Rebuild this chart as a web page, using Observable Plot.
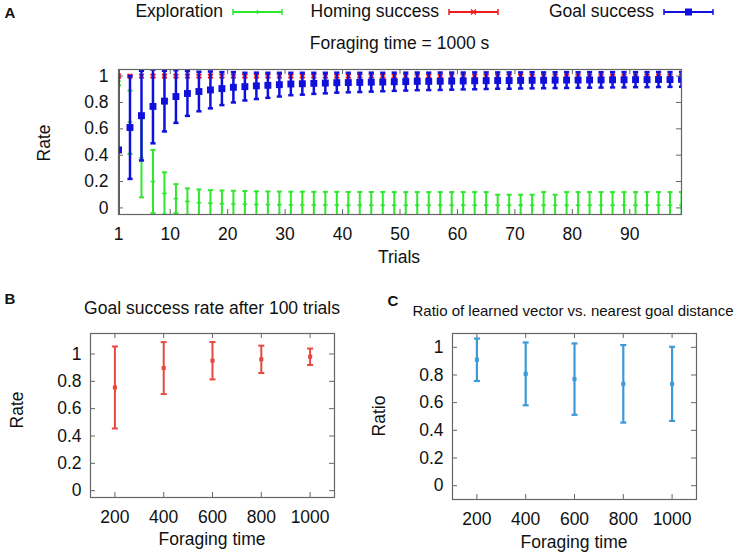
<!DOCTYPE html>
<html><head><meta charset="utf-8">
<script src="https://cdn.jsdelivr.net/npm/d3@7"></script>
<script src="https://cdn.jsdelivr.net/npm/@observablehq/plot@0.6"></script>
<style>
body{margin:0;background:#fff;}
#root{position:relative;width:738px;height:556px;overflow:hidden;font-family:"Liberation Sans",Arial,Helvetica,sans-serif;color:#111;background:#fff;}
#root svg.layer{position:absolute;left:0;top:0;}
.t{position:absolute;white-space:nowrap;line-height:1;}
</style></head><body><div id="root"></div>
<script>
// ---------- data ----------
const trials = [1,3,5,7,9,11,13,15,17,19,
  21,23,25,27,29,31,33,35,37,39,
  41,43,45,47,49,51,53,55,57,59,
  61,63,65,67,69,71,73,75,77,79,
  81,83,85,87,89,91,93,95,97,99];
const explorationMean = [0.96,0.65,0.38,0.20,0.11,0.07,0.048,0.04,0.035,0.032,
  0.03,0.028,0.026,0.025,0.024,0.023,0.023,0.022,0.022,0.022,
  0.021,0.021,0.021,0.021,0.02,0.02,0.02,0.02,0.02,0.02,
  0.02,0.02,0.02,0.02,0.02,0.02,0.02,0.02,0.02,0.02,
  0.02,0.02,0.02,0.02,0.02,0.02,0.02,0.02,0.02,0.02];
const explorationErr = [0.03,0.24,0.30,0.24,0.16,0.11,0.10,0.10,0.10,0.10,
  0.10,0.10,0.10,0.10,0.10,0.10,0.10,0.10,0.10,0.10,
  0.10,0.10,0.10,0.10,0.10,0.10,0.10,0.10,0.10,0.10,
  0.10,0.10,0.10,0.08,0.08,0.08,0.08,0.10,0.08,0.10,
  0.10,0.10,0.10,0.10,0.10,0.10,0.10,0.10,0.10,0.10];
const homingMean = [1,1,1,1,1,1,1,1,1,1,
  1,1,1,1,1,1,1,1,1,1,
  1,1,1,1,1,1,1,1,1,1,
  1,1,1,1,1,1,1,1,1,1,
  1,1,1,1,1,1,1,1,1,1];
const homingErr = [0.01,0.01,0.01,0.01,0.01,0.01,0.01,0.01,0.01,0.01,
  0.01,0.01,0.01,0.01,0.01,0.01,0.01,0.01,0.01,0.01,
  0.01,0.01,0.01,0.01,0.01,0.01,0.01,0.01,0.01,0.01,
  0.01,0.01,0.01,0.01,0.01,0.01,0.01,0.01,0.01,0.01,
  0.01,0.01,0.01,0.01,0.01,0.01,0.01,0.01,0.01,0.01];
const goalMean = [0.44,0.61,0.70,0.77,0.81,0.845,0.868,0.883,0.895,0.905,
  0.915,0.92,0.926,0.93,0.935,0.94,0.942,0.945,0.947,0.95,
  0.951,0.952,0.954,0.955,0.957,0.958,0.96,0.96,0.961,0.962,
  0.963,0.964,0.965,0.966,0.966,0.967,0.968,0.968,0.969,0.97,
  0.97,0.971,0.971,0.972,0.972,0.973,0.973,0.974,0.974,0.975];
const goalErr = [0.62,0.39,0.34,0.28,0.23,0.20,0.17,0.15,0.14,0.125,
  0.115,0.105,0.10,0.095,0.09,0.085,0.083,0.08,0.078,0.076,
  0.074,0.073,0.072,0.07,0.069,0.068,0.067,0.066,0.066,0.065,
  0.064,0.064,0.063,0.062,0.062,0.061,0.061,0.06,0.06,0.06,
  0.059,0.059,0.058,0.058,0.058,0.057,0.057,0.057,0.056,0.056];

const foragingTimes = [200,400,600,800,1000];
const goalRateMean = [0.755,0.897,0.951,0.961,0.98];
const goalRateErr = [0.30,0.19,0.137,0.10,0.06];
const ratioMean = [0.91,0.808,0.77,0.736,0.736];
const ratioErr = [0.153,0.227,0.258,0.28,0.268];

const trialTicks = [1,10,20,30,40,50,60,70,80,90];
const rateTicks = [0,0.2,0.4,0.6,0.8,1];
const timeTicks = [200,400,600,800,1000];

const seriesNames = ["Exploration","Homing success","Goal success"];
const seriesColors = ["#2ee82e","#ee1c1c","#1010dc"];

// ---------- helpers ----------
const W = 738, H = 556;
const root = document.getElementById("root");
const cap = {draw(ctx, size){ const w = Math.sqrt(size/Math.PI); ctx.moveTo(-w,0); ctx.lineTo(w,0); }};
const frameColor = "#666";
const fontFam = '"Liberation Sans", Arial, Helvetica, sans-serif';

function errMarks(xs, mean, err, color, o) {
  const data = xs.map((x,i)=>({x, m: mean[i], e: err[i]}));
  return [
    Plot.ruleX(data, {x:"x", y1:d=>d.m-d.e, y2:d=>d.m+d.e, stroke:color, strokeWidth:o.sw, clip:true}),
    Plot.dot(data, {x:"x", y:d=>d.m+d.e, symbol:cap, r:o.cap, stroke:color, strokeWidth:o.sw, fill:"none", clip:true}),
    Plot.dot(data, {x:"x", y:d=>d.m-d.e, symbol:cap, r:o.cap, stroke:color, strokeWidth:o.sw, fill:"none", clip:true}),
    Plot.dot(data, {x:"x", y:"m", symbol:o.symbol, r:o.r,
      fill: o.filled ? color : "none", stroke: o.filled ? "none" : color, strokeWidth: o.msw || 1.5, clip:true})
  ];
}
function frameMarks(xTicks, yTicks, innerW, innerH, xPad, yPad) {
  return [
    Plot.tickY(yTicks, {y:d=>d, insetRight: innerW-5, stroke:frameColor}),
    Plot.tickY(yTicks, {y:d=>d, insetLeft: innerW-5, stroke:frameColor}),
    Plot.tickX(xTicks, {x:d=>d, insetTop: innerH-5, stroke:frameColor}),
    Plot.tickX(xTicks, {x:d=>d, insetBottom: innerH-5, stroke:frameColor}),
    Plot.axisY(yTicks, {tickSize:0, tickPadding:yPad, label:null, tickFormat:d=>`${d}`}),
    Plot.axisX(xTicks, {tickSize:0, tickPadding:xPad, label:null, tickFormat:d=>`${d}`}),
    Plot.frame({stroke:frameColor, strokeWidth:1.2})
  ];
}
function layer(opts) {
  const svg = Plot.plot({width:W, height:H,
    style:{background:"transparent", fontFamily:fontFam, fontSize:"17.5px", color:"#111", overflow:"visible"},
    ...opts});
  svg.classList.add("layer");
  root.appendChild(svg);
}
function addText(str, x, y, {size=17.5, anchor="middle", rotate=0, weight="normal"}={}) {
  const d = document.createElement("div");
  d.className = "t"; d.textContent = str;
  d.style.fontSize = size+"px"; d.style.fontWeight = weight;
  d.style.left = x+"px"; d.style.top = y+"px";
  const tx = anchor==="middle" ? "-50%" : anchor==="end" ? "-100%" : "0";
  d.style.transform = `translate(${tx},-50%)` + (rotate ? ` rotate(${rotate}deg)` : "");
  root.appendChild(d);
}

// ---------- panel A ----------
{
  const mL=118, mR=57, mT=69, mB=342;
  layer({
    marginLeft:mL, marginRight:mR, marginTop:mT, marginBottom:mB,
    x:{type:"linear", domain:[1,99]},
    y:{type:"linear", domain:[-0.05,1.05]},
    marks:[
      ...errMarks(trials, explorationMean, explorationErr, seriesColors[0], {sw:2, cap:2.5, symbol:"plus", r:1.6}),
      ...errMarks(trials, homingMean, homingErr, seriesColors[1], {sw:1.5, cap:2.5, symbol:"times", r:2.2}),
      ...errMarks(trials, goalMean, goalErr, seriesColors[2], {sw:2.5, cap:2.6, symbol:"square", r:3.9, filled:true}),
      ...frameMarks(trialTicks, rateTicks, W-mL-mR, H-mT-mB, 13, 10)
    ]
  });
}
// ---------- panel B ----------
{
  const mL=90, mR=404, mT=333, mB=59;
  layer({
    marginLeft:mL, marginRight:mR, marginTop:mT, marginBottom:mB,
    x:{type:"linear", domain:[100,1100]},
    y:{type:"linear", domain:[-0.05,1.15]},
    marks:[
      ...errMarks(foragingTimes, goalRateMean, goalRateErr, "#e8473f", {sw:2, cap:3, symbol:"square", r:2.3, filled:true}),
      ...frameMarks(timeTicks, rateTicks, W-mL-mR, H-mT-mB, 13, 9)
    ]
  });
}
// ---------- panel C ----------
{
  const mL=452, mR=42, mT=333, mB=57;
  layer({
    marginLeft:mL, marginRight:mR, marginTop:mT, marginBottom:mB,
    x:{type:"linear", domain:[100,1100]},
    y:{type:"linear", domain:[-0.1,1.1]},
    marks:[
      ...errMarks(foragingTimes, ratioMean, ratioErr, "#3b9ad8", {sw:2.2, cap:3, symbol:"square", r:2.3, filled:true}),
      ...frameMarks(timeTicks, rateTicks, W-mL-mR, H-mT-mB, 13, 9)
    ]
  });
}

// ---------- legend (panel A) ----------
{
  const ends = [223, 439, 654];
  const ns = "http://www.w3.org/2000/svg";
  const svg = document.createElementNS(ns, "svg");
  svg.setAttribute("width", W); svg.setAttribute("height", 30);
  svg.setAttribute("class", "layer");
  let s = "";
  seriesNames.forEach((name, i) => {
    addText(name, ends[i], 12, {anchor:"end"});
    const x1 = ends[i] + 10, x2 = x1 + 49, y = 12, c = seriesColors[i], cx = (x1+x2)/2;
    s += `<line x1="${x1}" x2="${x2}" y1="${y}" y2="${y}" stroke="${c}" stroke-width="2"/>`;
    s += `<line x1="${x1}" x2="${x1}" y1="${y-3}" y2="${y+3}" stroke="${c}" stroke-width="1.5"/>`;
    s += `<line x1="${x2}" x2="${x2}" y1="${y-3}" y2="${y+3}" stroke="${c}" stroke-width="1.5"/>`;
    if (i === 2) s += `<rect x="${cx-3.5}" y="${y-3.5}" width="7" height="7" fill="${c}"/>`;
    else if (i === 1) s += `<path d="M${cx-2.5},${y-2.5}L${cx+2.5},${y+2.5}M${cx-2.5},${y+2.5}L${cx+2.5},${y-2.5}" stroke="${c}" stroke-width="1.5"/>`;
    else s += `<path d="M${cx-2},${y}L${cx+2},${y}M${cx},${y-2}L${cx},${y+2}" stroke="${c}" stroke-width="1.5"/>`;
  });
  svg.innerHTML = s;
  root.appendChild(svg);
}

// ---------- texts ----------
addText("A", 10, 12, {size:15, weight:"bold"});
addText("B", 10, 298, {size:15, weight:"bold"});
addText("C", 393, 300, {size:15, weight:"bold"});
addText("Foraging time = 1000 s", 399.5, 44);
addText("Rate", 45, 143, {rotate:-90});
addText("Trials", 399, 258);
addText("Goal success rate after 100 trials", 212, 309);
addText("Rate", 18, 410, {rotate:-90});
addText("Foraging time", 212, 540);
addText("Ratio of learned vector vs. nearest goal distance", 573, 310, {size:15});
addText("Ratio", 380, 416, {rotate:-90});
addText("Foraging time", 574, 543);
</script></body></html>
